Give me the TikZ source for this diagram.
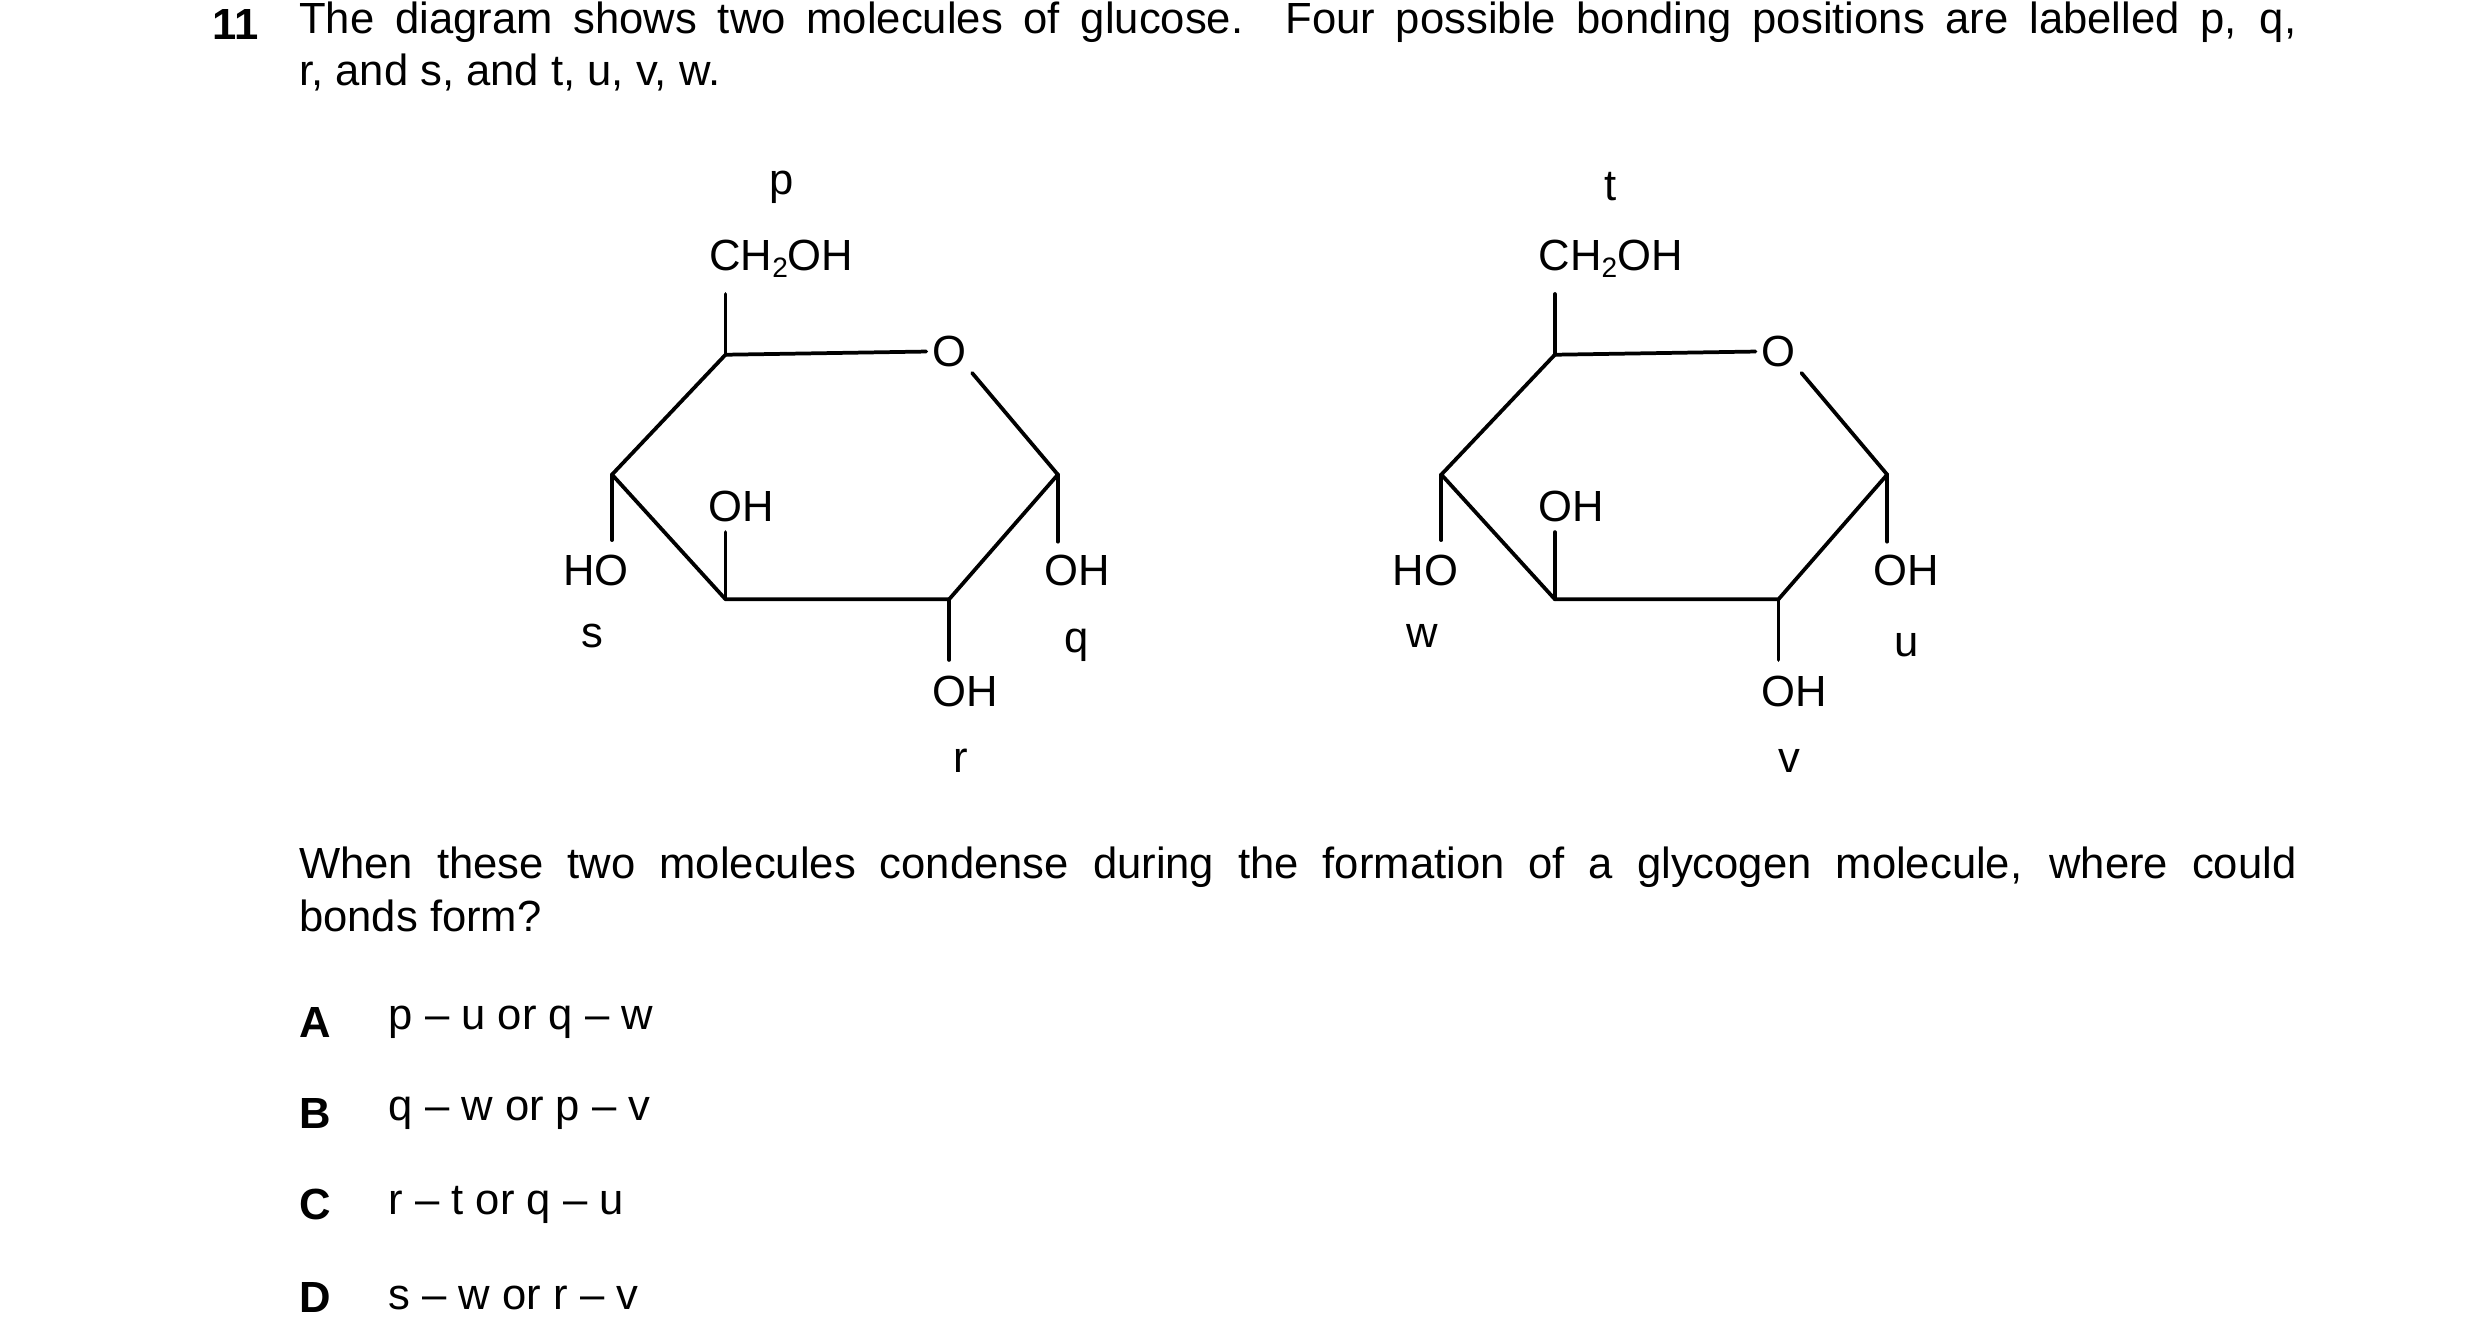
\documentclass[tikz,border=0pt]{standalone}
\usepackage{fontspec}
\setmainfont{Liberation Sans}
\newcommand{\sub}[1]{\raisebox{-0.3ex}{\fontsize{15}{15}\selectfont #1}}
\begin{document}
\begin{tikzpicture}[x=0.3mm,y=-0.3mm,
  txt/.style={inner sep=0pt,font=\fontsize{23.3}{28}\selectfont},
  bond/.style={line width=2pt,line cap=round,line join=round}]
\useasboundingbox (0,0) rectangle (1552,838);
\fill[white] (0,0) rectangle (1552,838);
\node[txt,anchor=base west,font=\fontsize{23.3}{28}\selectfont\bfseries] (num) at (133,25) {11};
\node[txt,anchor=north west,text width=375mm,align=justify] (q1) at (187,1) {The diagram shows two molecules of glucose. Four possible bonding positions are labelled p, q,\linebreak r, and s, and t, u, v, w.};
\node[txt,anchor=north west,text width=375mm,align=justify] (q2) at (187,530) {When these two molecules condense during the formation of a glycogen molecule, where could\linebreak bonds form?};
\foreach \L/\T/\y/\n in {A/{p -- u or q -- w}/640/a,B/{q -- w or p -- v}/697/b,C/{r -- t or q -- u}/754/c,D/{s -- w or r -- v}/812/d}{
  \node[txt,font=\fontsize{23.3}{28}\selectfont\bfseries] (L\n) at (197,\y) {\L};
  \node[txt,anchor=west] (T\n) at (243,\y) {\T};
}
\foreach \dx/\P/\Q/\R/\S/\m in {0/p/q/r/s/l,519/t/u/v/w/r}{
\begin{scope}[xshift=\dx*0.3mm]
  \coordinate (c4\m) at (454,222);
  \coordinate (c5\m) at (662,297);
  \coordinate (c1\m) at (594,375);
  \coordinate (c2\m) at (454,375);
  \coordinate (c3\m) at (383,297);
  \node[txt,inner sep=3pt] (O\m) at (594,220) {O};
  \draw[bond] (c4\m) -- (O\m.west) ;
  \draw[bond] (O\m.south east) -- (c5\m) -- (c1\m) -- (c2\m) -- (c3\m) -- (c4\m);
  \node[txt] (ch\m) at (489,162) {CH\sub{2}OH};
  \node[txt] (pp\m) at (489,117) {\P};
  \draw[bond] (c4\m) -- (454,184);
  \node[txt] (oha\m) at (464,317) {OH};
  \draw[bond] (c2\m) -- (454,333);
  \node[txt] (ho\m) at (373,357) {HO};
  \draw[bond] (c3\m) -- (383,338);
  \node[txt] (ss\m) at (371,398) {\S};
  \node[txt] (ohb\m) at (674,357) {OH};
  \draw[bond] (c5\m) -- (662,339);
  \node[txt] (qq\m) at (674,404) {\Q};
  \node[txt] (ohc\m) at (604,433) {OH};
  \draw[bond] (c1\m) -- (594,413);
  \node[txt] (rr\m) at (601,476) {\R};
\end{scope}}
\end{tikzpicture}
\end{document}
